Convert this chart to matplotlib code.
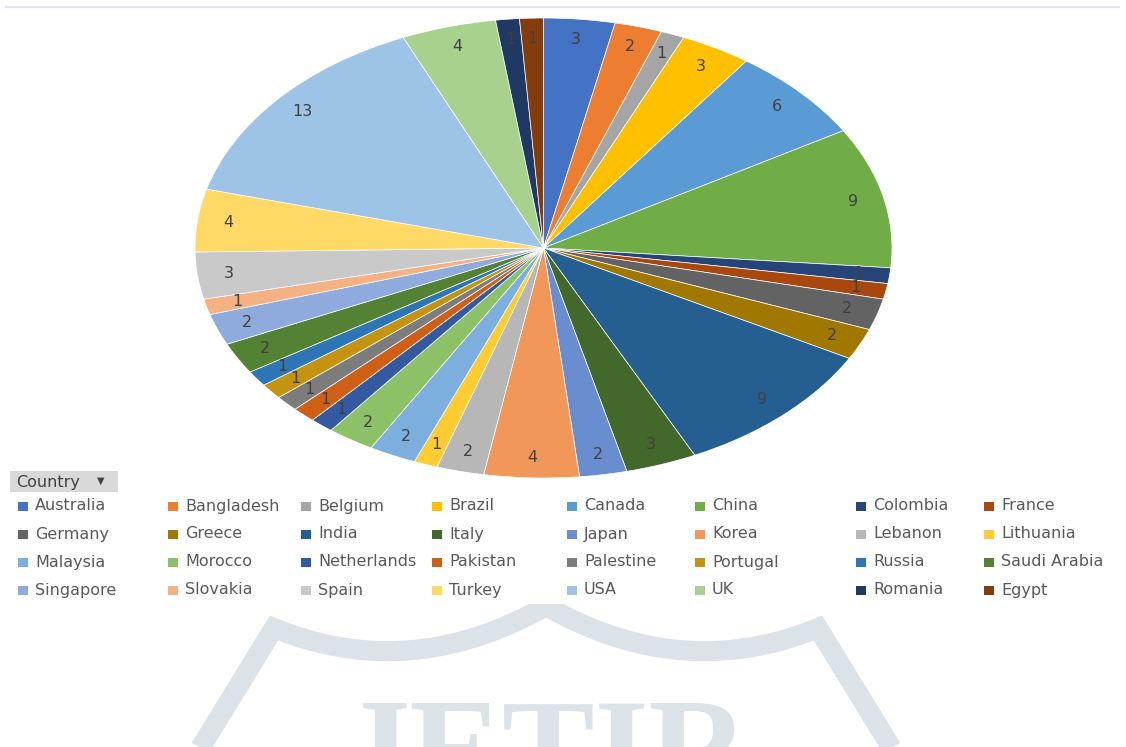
import numpy as np
import matplotlib
matplotlib.use("Agg")
import matplotlib.pyplot as plt
from matplotlib.patches import Rectangle

# number of entries per country, clockwise from 12 o'clock
countries = ["Australia", "Bangladesh", "Belgium", "Brazil", "Canada", "China", "Colombia", "France",
             "Germany", "Greece", "India", "Italy", "Japan", "Korea", "Lebanon", "Lithuania",
             "Malaysia", "Morocco", "Netherlands", "Pakistan", "Palestine", "Portugal", "Russia", "Saudi Arabia",
             "Singapore", "Slovakia", "Spain", "Turkey", "USA", "UK", "Romania", "Egypt"]
counts = [3, 2, 1, 3, 6, 9, 1, 1,
          2, 2, 9, 3, 2, 4, 2, 1,
          2, 2, 1, 1, 1, 1, 1, 2,
          2, 1, 3, 4, 13, 4, 1, 1]
colors = ["#4472C4", "#ED7D31", "#A5A5A5", "#FFC000", "#5B9BD5", "#70AD47", "#264478", "#A8480E",
          "#636363", "#A07800", "#255E91", "#43682B", "#698ED0", "#F1975A", "#B7B7B7", "#FFCD33",
          "#7CAFDD", "#8CC168", "#335AA1", "#CF5F14", "#7C7C7C", "#C49410", "#2E75B6", "#548235",
          "#8FAADC", "#F4B183", "#C9C9C9", "#FFD966", "#9DC3E6", "#A9D18E", "#203864", "#843C0C"]

total = sum(counts)
W, H = 1126, 747

fig = plt.figure(figsize=(W / 100, H / 100), dpi=100, facecolor="white")

# pixel-space layer for rule, watermark and legend
bg = fig.add_axes([0, 0, 1, 1])
bg.set_xlim(0, W)
bg.set_ylim(H, 0)
bg.axis("off")

bg.plot([5, 1120], [6.5, 6.5], color="#E4E3EE", lw=1.6, solid_capstyle="butt")

# watermark logo: two scallops with slanted arms, plus the journal name
mark = "#DCE3E8"


def scallop(x0, y0, xm, ym, x1, y1, n=80):
    coef = np.polyfit([x0, xm, x1], [y0, ym, y1], 2)
    xs = np.linspace(x0, x1, n)
    return xs, np.polyval(coef, xs)


lx, ly = scallop(274, 628, 396, 651, 546, 606)
rx, ry = scallop(546, 606, 696, 651, 818, 628)
px = np.concatenate([[193], lx, rx[1:], [899]])
py = np.concatenate([[760], ly, ry[1:], [760]])
logo, = bg.plot(px, py, color=mark, lw=14.5, solid_joinstyle="miter", solid_capstyle="butt")
name = bg.text(545, 795, "JETIR", fontsize=100, family="Liberation Serif", weight="bold",
               color=mark, ha="center", va="baseline")
clip = Rectangle((0, 604), W, H - 604, transform=bg.transData)
logo.set_clip_path(clip)
name.set_clip_path(clip)

# elliptical pie: unit circle stretched to fill the axes box
ax = fig.add_axes([195 / W, (H - 478) / H, 697 / W, 460 / H])
wedges, _, autotexts = ax.pie(
    counts, colors=colors, startangle=90, counterclock=False,
    autopct=lambda p: f"{p * total / 100:.0f}", pctdistance=0.91,
    wedgeprops=dict(edgecolor="white", linewidth=0.5),
    textprops=dict(color="#404040", fontsize=11.5),
)
ax.set_aspect("auto")
ax.set_xlim(-1, 1)
ax.set_ylim(-1, 1)
ax.axis("off")
for w in wedges:
    w.set_clip_on(False)

# filter button
bg.add_patch(Rectangle((10, 471), 108, 21, facecolor="#D9D9D9", edgecolor="none"))
bg.text(16, 482, "Country", fontsize=11.5, color="#404040", va="center")
bg.text(97, 481, "\u25bc", fontsize=7, color="#404040", va="center")

# legend grid, row-major
col_x = [18, 168, 301, 432, 567, 695, 856, 984]
row_y = [506, 534, 562, 590]
for i, (label, w) in enumerate(zip(countries, wedges)):
    r, c = divmod(i, len(col_x))
    x, y = col_x[c], row_y[r]
    bg.add_patch(Rectangle((x, y - 4.5), 10, 9, facecolor=w.get_facecolor(), edgecolor="none"))
    bg.text(x + 17, y, label, fontsize=11.5, color="#595959", va="center")

fig.savefig("out.png", dpi=100, facecolor="white")
